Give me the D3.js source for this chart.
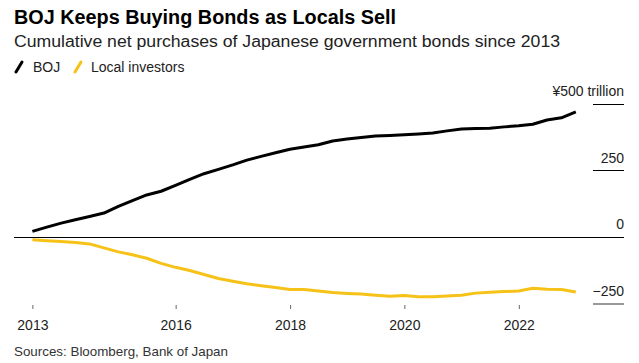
<!DOCTYPE html>
<html lang="en">
<head>
  <meta charset="UTF-8" />
  <title>BOJ Keeps Buying Bonds as Locals Sell</title>
  <style>
  body {
    margin: 0;
    background: #fff;
    font-family: "Liberation Sans", Arial, sans-serif;
  }
  svg {
    display: block;
  }
  </style>
  <script src="https://d3js.org/d3.v7.min.js"></script>
</head>
<body>
  <div id="chart"></div>
  <script>
    // Quarter-end dates
    const dates = [
      "2013-06-30", "2013-09-30", "2013-12-31",
      "2014-03-31", "2014-06-30", "2014-09-30", "2014-12-31",
      "2015-03-31", "2015-06-30", "2015-09-30", "2015-12-31",
      "2016-03-31", "2016-06-30", "2016-09-30", "2016-12-31",
      "2017-03-31", "2017-06-30", "2017-09-30", "2017-12-31",
      "2018-03-31", "2018-06-30", "2018-09-30", "2018-12-31",
      "2019-03-31", "2019-06-30", "2019-09-30", "2019-12-31",
      "2020-03-31", "2020-06-30", "2020-09-30", "2020-12-31",
      "2021-03-31", "2021-06-30", "2021-09-30", "2021-12-31",
      "2022-03-31", "2022-06-30", "2022-09-30", "2022-12-31"
    ];

    // Cumulative net purchases, ¥ trillion
    const boj = [21, 37, 52, 65, 77, 90, 115, 137, 158, 172, 194, 217, 238, 254, 271, 289, 303, 317, 330, 338,
      347, 361, 368, 374, 380, 382, 384, 387, 391, 399, 406, 408, 409, 414, 418, 424, 440, 448, 470];
    const locals = [-10, -14, -17, -21, -26, -41, -56, -67, -80, -99, -114, -126, -141, -156, -166, -176, -183, -190, -197, -197,
      -203, -209, -212, -214, -219, -223, -220, -225, -225, -222, -219, -211, -208, -205, -203, -193, -196, -197, -207];

    const yTicks = [500, 250, 0, -250];
    const xTickYears = ["2016-01-01", "2018-01-01", "2020-01-01", "2022-01-01"];

    const width = 639;
    const height = 363;
    const bojColor = "#000";
    const localColor = "#f6c217";

    const parse = d3.timeParse("%Y-%m-%d");
    const dateObjs = dates.map(parse);

    const svg = d3.select("#chart").append("svg")
      .attr("width", width)
      .attr("height", height);

    // Header
    svg.append("text")
      .attr("x", 14).attr("y", 24)
      .attr("font-size", 20).attr("font-weight", "bold")
      .attr("textLength", 382).attr("lengthAdjust", "spacingAndGlyphs")
      .attr("fill", "#000")
      .text("BOJ Keeps Buying Bonds as Locals Sell");

    svg.append("text")
      .attr("x", 14).attr("y", 47)
      .attr("font-size", 16)
      .attr("textLength", 546).attr("lengthAdjust", "spacingAndGlyphs")
      .attr("fill", "#222")
      .text("Cumulative net purchases of Japanese government bonds since 2013");

    // Legend
    const legend = [
      { name: "BOJ", color: bojColor, cx: 19, tx: 33 },
      { name: "Local investors", color: localColor, cx: 78, tx: 91 }
    ];
    const lg = svg.append("g");
    lg.selectAll("line").data(legend).enter().append("line")
      .attr("x1", d => d.cx - 3).attr("y1", 72)
      .attr("x2", d => d.cx + 3).attr("y2", 62)
      .attr("stroke", d => d.color).attr("stroke-width", 3)
      .attr("stroke-linecap", "round");
    lg.selectAll("text").data(legend).enter().append("text")
      .attr("x", d => d.tx).attr("y", 72)
      .attr("font-size", 14).attr("fill", "#222")
      .text(d => d.name);

    // Scales
    const x = d3.scaleTime()
      .domain([dateObjs[0], dateObjs[dateObjs.length - 1]])
      .range([32.4, 575.8]);

    const y = d3.scaleLinear()
      .domain([-250, 500])
      .range([303.5, 104]);

    // Right side y-axis: short rules with labels on top
    const yg = svg.append("g");
    yg.selectAll("line").data(yTicks).enter().append("line")
      .attr("x1", d => d === 0 ? 14 : 593)
      .attr("x2", 624)
      .attr("y1", d => y(d)).attr("y2", d => y(d))
      .attr("stroke", d => d === -250 ? "#999" : "#000")
      .attr("stroke-width", d => d === -250 ? 2 : 1)
      .attr("shape-rendering", "crispEdges");
    yg.selectAll("text").data(yTicks).enter().append("text")
      .attr("x", 624)
      .attr("y", d => y(d) - 8)
      .attr("text-anchor", "end")
      .attr("font-size", 14).attr("fill", "#222")
      .text(d => d === 500 ? "¥500 trillion" : d3.format("d")(d));

    // Bottom x-axis: first tick is labelled 2013 at start of data
    const xTicks = [dateObjs[0]].concat(xTickYears.map(parse));
    const xg = svg.append("g")
      .attr("transform", "translate(0,305)")
      .call(d3.axisBottom(x)
        .tickValues(xTicks)
        .tickSize(4)
        .tickPadding(11)
        .tickFormat(d3.timeFormat("%Y")));
    xg.select(".domain").remove();
    xg.selectAll(".tick line").attr("stroke", "#666");
    xg.selectAll(".tick text")
      .attr("font-size", 14)
      .attr("font-family", "Liberation Sans, Arial, sans-serif")
      .attr("fill", "#222");

    // Lines
    const line = d3.line()
      .x((d, i) => x(dateObjs[i]))
      .y(d => y(d));

    svg.append("path")
      .datum(locals)
      .attr("fill", "none")
      .attr("stroke", localColor)
      .attr("stroke-width", 3)
      .attr("stroke-linejoin", "round")
      .attr("d", line);

    svg.append("path")
      .datum(boj)
      .attr("fill", "none")
      .attr("stroke", bojColor)
      .attr("stroke-width", 3)
      .attr("stroke-linejoin", "round")
      .attr("d", line);

    // Source
    svg.append("text")
      .attr("x", 14).attr("y", 356)
      .attr("font-size", 13.5).attr("fill", "#333")
      .attr("textLength", 214).attr("lengthAdjust", "spacingAndGlyphs")
      .text("Sources: Bloomberg, Bank of Japan");
  </script>
</body>
</html>
